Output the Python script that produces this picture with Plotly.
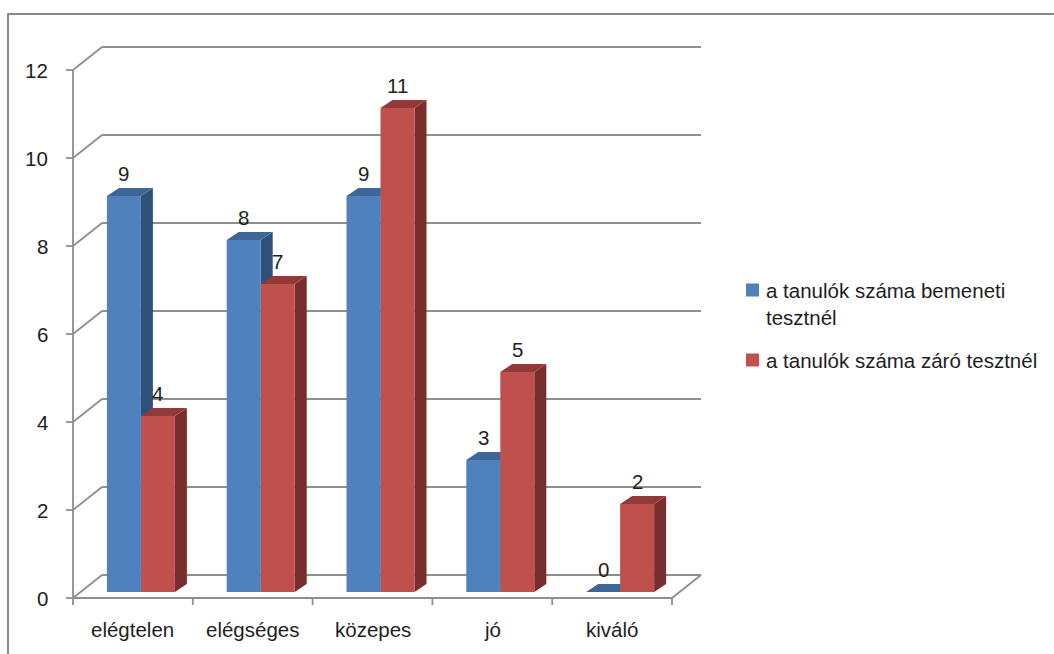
import plotly.graph_objects as go

# ---- data -------------------------------------------------------------
categories = ["elégtelen", "elégséges", "közepes", "jó", "kiváló"]
series_names = ["a tanulók száma bemeneti tesztnél", "a tanulók száma záró tesztnél"]
legend_labels = ["a tanulók száma bemeneti<br>tesztnél", "a tanulók száma záró tesztnél"]
bemeneti = [9, 8, 9, 3, 0]
zaro = [4, 7, 11, 5, 2]
y_ticks = [0, 2, 4, 6, 8, 10, 12]

# ---- styling / geometry -------------------------------------------------
W, H = 1054, 654
FONT = "Liberation Sans"
FSIZE = 20.5
TEXT_COLOR = "#1e1e1e"
GRID_COLOR = "#8e8e8e"
FRONT_COLORS = ["#4F81BD", "#C0504D"]
TOP_COLORS = ["#3E6797", "#913B39"]
SIDE_COLORS = ["#2F5079", "#772E2C"]

KX = 119.8          # pixels per category
KY = 44.0           # pixels per value unit
LEFT_PX = 81.0      # pixel x of the first category edge on the bar plane
ZERO_PX = 592.0     # pixel y of value 0 on the bar plane

X0 = -0.5 - LEFT_PX / KX
X1 = X0 + W / KX
Y1 = ZERO_PX / KY
Y0 = Y1 - H / KY


def dx(px):
    return px / KX


def dy(px):
    return px / KY


FRONT = (dx(-8), dy(-6))    # front plane (axes) relative to bar plane
BACK = (dx(21), dy(17))     # back wall relative to bar plane
DEPTH = (dx(12), dy(8))     # depth of a single bar
BAR_W = dx(34)
OFFSETS = [-BAR_W, 0.0]

n = len(categories)
xs = list(range(n))
left_edge, right_edge = -0.5, n - 0.5

fig = go.Figure()
for k, (name, vals) in enumerate(zip(series_names, [bemeneti, zaro])):
    fig.add_trace(go.Bar(
        x=xs, y=vals, name=name, width=BAR_W, offset=OFFSETS[k],
        marker=dict(color=FRONT_COLORS[k], line=dict(width=0)),
        showlegend=False, hoverinfo="x+y",
    ))

shapes = []
line = dict(color=GRID_COLOR, width=1.8)

# back wall gridlines and their diagonals on the side wall
for v in y_ticks:
    shapes.append(dict(type="line", xref="x", yref="y", layer="below",
                       x0=left_edge + BACK[0], y0=v + BACK[1],
                       x1=right_edge + BACK[0], y1=v + BACK[1], line=line))
    shapes.append(dict(type="line", xref="x", yref="y", layer="below",
                       x0=left_edge + FRONT[0], y0=v + FRONT[1],
                       x1=left_edge + BACK[0], y1=v + BACK[1], line=line))
    # tick mark on the value axis
    shapes.append(dict(type="line", xref="x", yref="y", layer="below",
                       x0=left_edge + FRONT[0] - dx(7), y0=v + FRONT[1],
                       x1=left_edge + FRONT[0], y1=v + FRONT[1], line=line))

# value axis line
shapes.append(dict(type="line", xref="x", yref="y", layer="below",
                   x0=left_edge + FRONT[0], y0=y_ticks[0] + FRONT[1],
                   x1=left_edge + FRONT[0], y1=y_ticks[-1] + FRONT[1], line=line))
# floor front edge (category axis) and right edge
shapes.append(dict(type="line", xref="x", yref="y", layer="below",
                   x0=left_edge + FRONT[0], y0=FRONT[1],
                   x1=right_edge + FRONT[0], y1=FRONT[1], line=line))
shapes.append(dict(type="line", xref="x", yref="y", layer="below",
                   x0=right_edge + FRONT[0], y0=FRONT[1],
                   x1=right_edge + BACK[0], y1=BACK[1], line=line))
# category tick marks
for i in range(n + 1):
    b = i - 0.5 + FRONT[0]
    shapes.append(dict(type="line", xref="x", yref="y", layer="below",
                       x0=b, y0=FRONT[1], x1=b, y1=FRONT[1] - dy(7), line=line))


def poly(pts):
    return "M " + " L ".join(f"{px},{py}" for px, py in pts) + " Z"


# side and top faces of every bar
for i in xs:
    for k, vals in enumerate([bemeneti, zaro]):
        v = vals[i]
        xl = i + OFFSETS[k]
        xr = xl + BAR_W
        sx, sy = DEPTH
        if v > 0:
            shapes.append(dict(type="path", xref="x", yref="y", layer="below",
                               path=poly([(xr, 0), (xr + sx, sy), (xr + sx, v + sy), (xr, v)]),
                               fillcolor=SIDE_COLORS[k], line=dict(width=0)))
        shapes.append(dict(type="path", xref="x", yref="y", layer="below",
                           path=poly([(xl, v), (xr, v), (xr + sx, v + sy), (xl + sx, v + sy)]),
                           fillcolor=TOP_COLORS[k], line=dict(width=0)))

# outer chart border
shapes.append(dict(type="rect", xref="paper", yref="paper", layer="above",
                   x0=8 / W, y0=-0.05, x1=1.05, y1=1 - 14 / H,
                   line=dict(color="#8a8a8a", width=2), fillcolor="rgba(0,0,0,0)"))

annotations = []
font = dict(family=FONT, size=FSIZE, color=TEXT_COLOR)

# data labels
for k, vals in enumerate([bemeneti, zaro]):
    for i, v in enumerate(vals):
        annotations.append(dict(xref="x", yref="y", x=i + OFFSETS[k] + BAR_W / 2, y=v,
                                yshift=22.5, text=str(v), showarrow=False,
                                xanchor="center", yanchor="middle", font=font))

# value axis labels
for v in y_ticks:
    annotations.append(dict(xref="x", yref="y", x=left_edge + FRONT[0] - dx(23),
                            y=v + FRONT[1], text=str(v), showarrow=False,
                            xanchor="right", yanchor="middle", font=font))

# category labels
for i, c in enumerate(categories):
    annotations.append(dict(xref="x", yref="y", x=i + FRONT[0], y=FRONT[1] - dy(31),
                            text=c, showarrow=False, xanchor="center",
                            yanchor="middle", font=font))

# legend
legend_rows = [(290, 303.5), (360, 360)]   # (swatch centre y, text centre y) in px
for k, label in enumerate(legend_labels):
    sy_px, ty_px = legend_rows[k]
    shapes.append(dict(type="rect", xref="paper", yref="paper", layer="above",
                       x0=746 / W, x1=759 / W,
                       y0=1 - (sy_px + 6.5) / H, y1=1 - (sy_px - 6.5) / H,
                       fillcolor=FRONT_COLORS[k], line=dict(width=0)))
    annotations.append(dict(xref="paper", yref="paper", x=764 / W, y=1 - ty_px / H,
                            text=label, showarrow=False, xanchor="left",
                            yanchor="middle", align="left", font=font))

fig.update_layout(
    width=W, height=H,
    margin=dict(l=0, r=0, t=0, b=0),
    paper_bgcolor="white", plot_bgcolor="white",
    barmode="overlay",
    xaxis=dict(range=[X0, X1], visible=False, fixedrange=True),
    yaxis=dict(range=[Y0, Y1], visible=False, fixedrange=True),
    shapes=shapes, annotations=annotations,
    font=font,
)

fig.write_html("out.html")
